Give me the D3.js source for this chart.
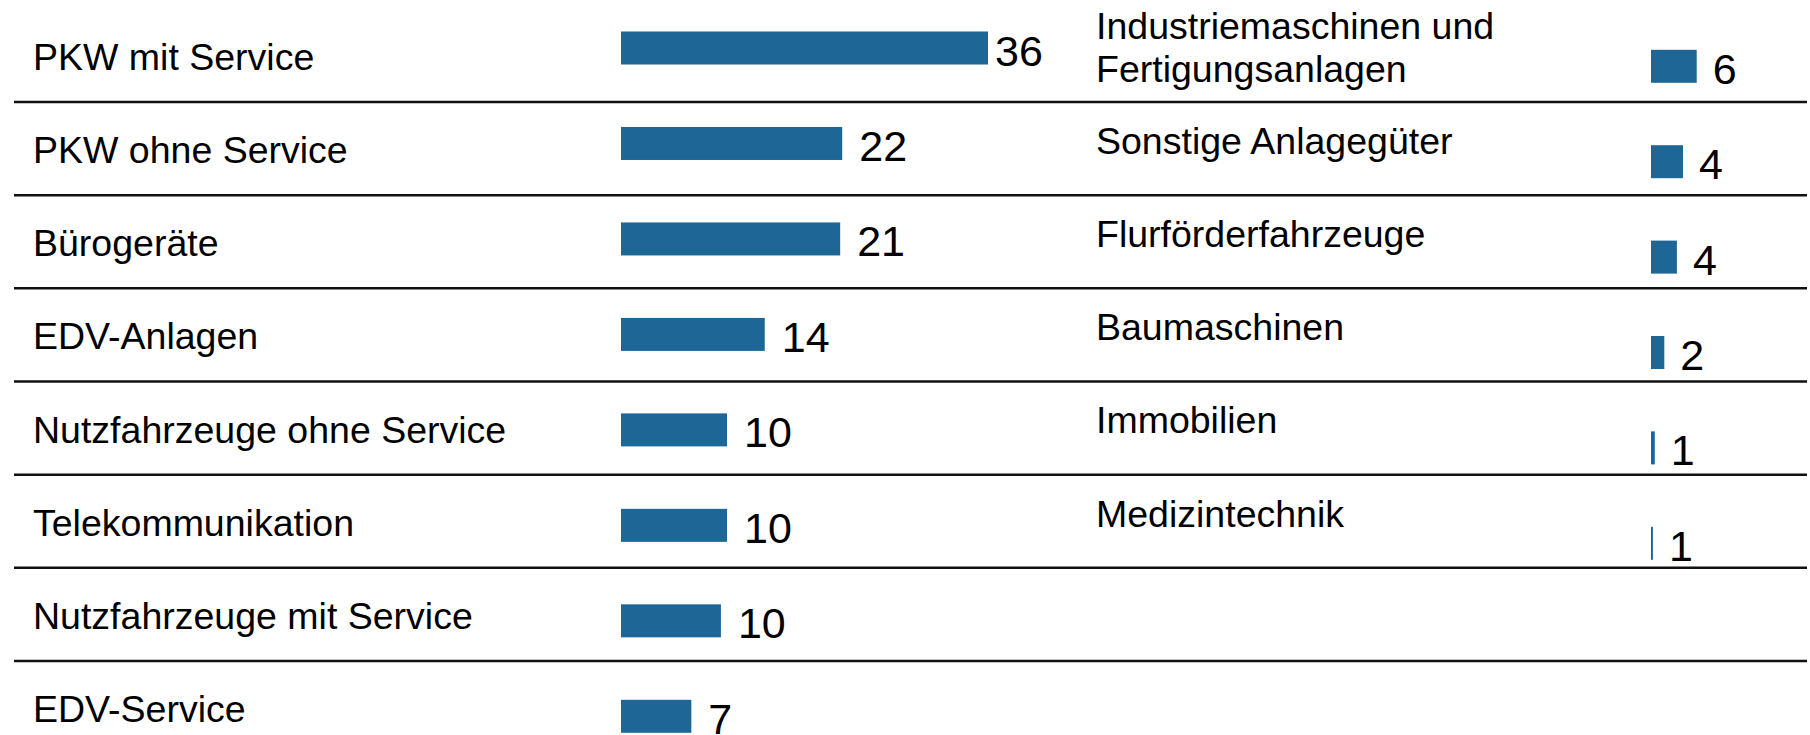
<!DOCTYPE html>
<html>
<head>
<meta charset="utf-8">
<script src="https://cdn.jsdelivr.net/npm/d3@7"></script>
<style>
  body { margin: 0; background: #fff; }
  svg { display: block; font-family: "Liberation Sans", Arial, sans-serif; }
</style>
</head>
<body>
<svg id="chart" width="1810" height="735"></svg>
<script>
// left column
const leftCategories = [
  "PKW mit Service",
  "PKW ohne Service",
  "Bürogeräte",
  "EDV-Anlagen",
  "Nutzfahrzeuge ohne Service",
  "Telekommunikation",
  "Nutzfahrzeuge mit Service",
  "EDV-Service",
];
const leftValues = [36.0, 21.7, 21.5, 14.1, 10.4, 10.4, 9.8, 6.9];
const leftLabels = ["36", "22", "21", "14", "10", "10", "10", "7"];

// right column
const rightCategories = [
  "Industriemaschinen und\nFertigungsanlagen",
  "Sonstige Anlagegüter",
  "Flurförderfahrzeuge",
  "Baumaschinen",
  "Immobilien",
  "Medizintechnik",
];
const rightValues = [6.0, 4.2, 3.4, 1.75, 0.5, 0.25];
const rightLabels = ["6", "4", "4", "2", "1", "1"];

const width = 1810;
const height = 735;
const barColor = "#1d6696";
const barHeight = 33;
const labelSize = 37.5;
const valueSize = 43;

const svg = d3.select("#chart");
svg.append("rect").attr("width", width).attr("height", height).attr("fill", "#fff");

// table rows (8 rows, the last one runs off the bottom)
const row = d3.scaleBand().domain(d3.range(8)).range([8.8, 754.2]);

svg.append("g")
  .selectAll("line")
  .data(d3.range(7))
  .enter()
  .append("line")
  .attr("x1", 14)
  .attr("x2", 1807)
  .attr("y1", d => row(d) + row.bandwidth())
  .attr("y2", d => row(d) + row.bandwidth())
  .attr("stroke", "#111")
  .attr("stroke-width", 2.5);

// ---- left panel
const leftX0 = 621;
const xLeft = d3.scaleLinear().domain([0, 36]).range([0, 367]);
const yLeft = d3.scalePoint().domain(leftCategories).range([48, 716.3]);

const left = svg.append("g");
left.selectAll("text.cat")
  .data(leftCategories)
  .enter()
  .append("text")
  .attr("class", "cat")
  .attr("x", 33)
  .attr("y", (d, i) => row(i) + 61)
  .style("font-size", labelSize + "px")
  .text(d => d);

left.selectAll("rect")
  .data(leftValues)
  .enter()
  .append("rect")
  .attr("x", leftX0)
  .attr("y", (d, i) => yLeft(leftCategories[i]) - barHeight / 2)
  .attr("width", d => xLeft(d))
  .attr("height", barHeight)
  .attr("fill", barColor);

left.selectAll("text.val")
  .data(leftValues)
  .enter()
  .append("text")
  .attr("class", "val")
  // keep the widest label inside its column
  .attr("x", d => Math.min(leftX0 + xLeft(d) + 17, 995))
  .attr("y", (d, i) => yLeft(leftCategories[i]) + 17.5)
  .style("font-size", valueSize + "px")
  .text((d, i) => leftLabels[i]);

// ---- right panel
const rightX0 = 1651;
const xRight = d3.scaleLinear().domain([0, 6]).range([0, 45.7]);
const yRight = d3.scalePoint().domain(rightCategories).range([66.3, 543.3]);
const lineStep = 42.5;

const right = svg.append("g");
const cat = right.selectAll("text.cat")
  .data(rightCategories)
  .enter()
  .append("text")
  .attr("class", "cat")
  .style("font-size", labelSize + "px");

cat.each(function (d, i) {
  const lines = d.split("\n");
  const first = row(i) + 38.5 + 13.4 - ((lines.length - 1) * lineStep) / 2;
  d3.select(this)
    .selectAll("tspan")
    .data(lines)
    .enter()
    .append("tspan")
    .attr("x", 1096)
    .attr("y", (l, j) => first + j * lineStep)
    .text(l => l);
});

right.selectAll("rect")
  .data(rightValues)
  .enter()
  .append("rect")
  .attr("x", rightX0)
  .attr("y", (d, i) => yRight(rightCategories[i]) - barHeight / 2)
  .attr("width", d => xRight(d))
  .attr("height", barHeight)
  .attr("fill", barColor);

right.selectAll("text.val")
  .data(rightValues)
  .enter()
  .append("text")
  .attr("class", "val")
  .attr("x", d => rightX0 + xRight(d) + 16)
  .attr("y", (d, i) => yRight(rightCategories[i]) + 17.5)
  .style("font-size", valueSize + "px")
  .text((d, i) => rightLabels[i]);
</script>
</body>
</html>
